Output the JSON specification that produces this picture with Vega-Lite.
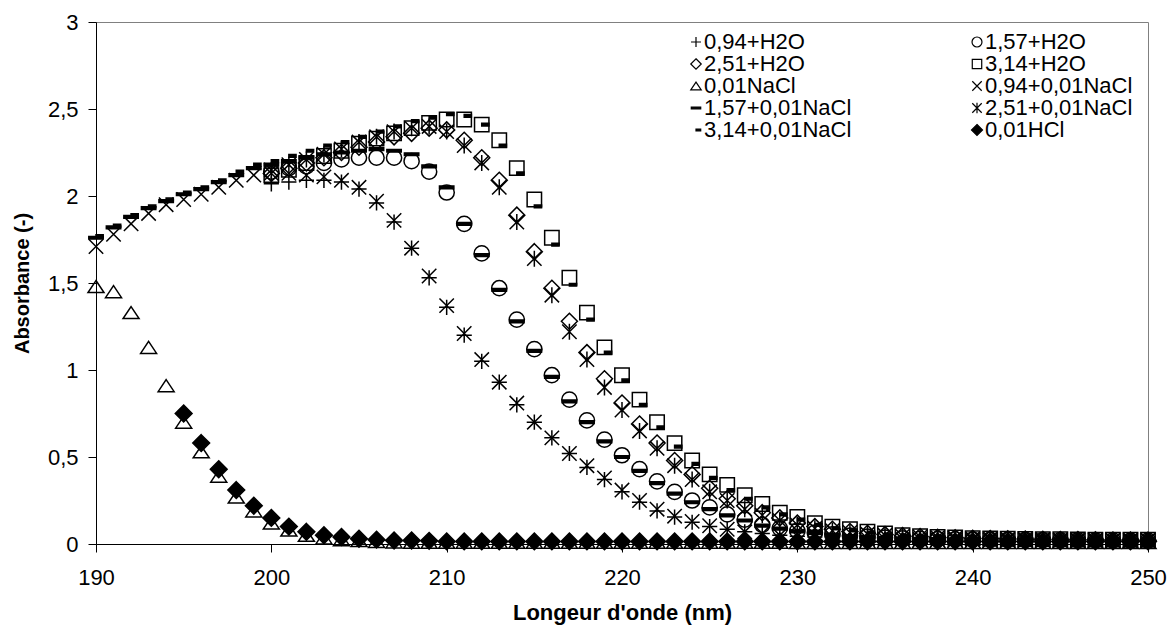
{
"$schema": "https://vega.github.io/schema/vega-lite/v6.json",
"autosize": {"type": "none"},
"padding": {"left": 96, "top": 22, "right": 21, "bottom": 86},
"width": 1052,
"height": 522,
"background": "white",
"data": {"values": [
{"serie":"0,94+H2O","nm":200,"abs":2.07},{"serie":"0,94+H2O","nm":201,"abs":2.08},{"serie":"0,94+H2O","nm":202,"abs":2.09},{"serie":"0,94+H2O","nm":203,"abs":2.09},{"serie":"0,94+H2O","nm":204,"abs":2.08},{"serie":"0,94+H2O","nm":205,"abs":2.04},{"serie":"0,94+H2O","nm":206,"abs":1.96},{"serie":"0,94+H2O","nm":207,"abs":1.85},{"serie":"0,94+H2O","nm":208,"abs":1.70},{"serie":"0,94+H2O","nm":209,"abs":1.53},
{"serie":"0,94+H2O","nm":210,"abs":1.36},{"serie":"0,94+H2O","nm":211,"abs":1.20},{"serie":"0,94+H2O","nm":212,"abs":1.05},{"serie":"0,94+H2O","nm":213,"abs":0.93},{"serie":"0,94+H2O","nm":214,"abs":0.80},{"serie":"0,94+H2O","nm":215,"abs":0.70},{"serie":"0,94+H2O","nm":216,"abs":0.61},{"serie":"0,94+H2O","nm":217,"abs":0.52},{"serie":"0,94+H2O","nm":218,"abs":0.44},{"serie":"0,94+H2O","nm":219,"abs":0.37},
{"serie":"0,94+H2O","nm":220,"abs":0.30},{"serie":"0,94+H2O","nm":221,"abs":0.24},{"serie":"0,94+H2O","nm":222,"abs":0.19},{"serie":"0,94+H2O","nm":223,"abs":0.155},{"serie":"0,94+H2O","nm":224,"abs":0.125},{"serie":"0,94+H2O","nm":225,"abs":0.10},{"serie":"0,94+H2O","nm":226,"abs":0.085},{"serie":"0,94+H2O","nm":227,"abs":0.07},{"serie":"0,94+H2O","nm":228,"abs":0.06},{"serie":"0,94+H2O","nm":229,"abs":0.05},
{"serie":"0,94+H2O","nm":230,"abs":0.045},{"serie":"0,94+H2O","nm":231,"abs":0.04},{"serie":"0,94+H2O","nm":232,"abs":0.036},{"serie":"0,94+H2O","nm":233,"abs":0.033},{"serie":"0,94+H2O","nm":234,"abs":0.03},{"serie":"0,94+H2O","nm":235,"abs":0.028},{"serie":"0,94+H2O","nm":236,"abs":0.027},{"serie":"0,94+H2O","nm":237,"abs":0.026},{"serie":"0,94+H2O","nm":238,"abs":0.025},{"serie":"0,94+H2O","nm":239,"abs":0.024},
{"serie":"0,94+H2O","nm":240,"abs":0.023},{"serie":"0,94+H2O","nm":241,"abs":0.022},{"serie":"0,94+H2O","nm":242,"abs":0.022},{"serie":"0,94+H2O","nm":243,"abs":0.021},{"serie":"0,94+H2O","nm":244,"abs":0.021},{"serie":"0,94+H2O","nm":245,"abs":0.02},{"serie":"0,94+H2O","nm":246,"abs":0.02},{"serie":"0,94+H2O","nm":247,"abs":0.02},{"serie":"0,94+H2O","nm":248,"abs":0.02},{"serie":"0,94+H2O","nm":249,"abs":0.02},{"serie":"0,94+H2O","nm":250,"abs":0.02},

{"serie":"1,57+H2O","nm":200,"abs":2.14},{"serie":"1,57+H2O","nm":201,"abs":2.16},{"serie":"1,57+H2O","nm":202,"abs":2.17},{"serie":"1,57+H2O","nm":203,"abs":2.19},{"serie":"1,57+H2O","nm":204,"abs":2.21},{"serie":"1,57+H2O","nm":205,"abs":2.22},{"serie":"1,57+H2O","nm":206,"abs":2.22},{"serie":"1,57+H2O","nm":207,"abs":2.22},{"serie":"1,57+H2O","nm":208,"abs":2.20},{"serie":"1,57+H2O","nm":209,"abs":2.14},
{"serie":"1,57+H2O","nm":210,"abs":2.02},{"serie":"1,57+H2O","nm":211,"abs":1.84},{"serie":"1,57+H2O","nm":212,"abs":1.67},{"serie":"1,57+H2O","nm":213,"abs":1.47},{"serie":"1,57+H2O","nm":214,"abs":1.29},{"serie":"1,57+H2O","nm":215,"abs":1.12},{"serie":"1,57+H2O","nm":216,"abs":0.97},{"serie":"1,57+H2O","nm":217,"abs":0.83},{"serie":"1,57+H2O","nm":218,"abs":0.71},{"serie":"1,57+H2O","nm":219,"abs":0.60},
{"serie":"1,57+H2O","nm":220,"abs":0.51},{"serie":"1,57+H2O","nm":221,"abs":0.43},{"serie":"1,57+H2O","nm":222,"abs":0.36},{"serie":"1,57+H2O","nm":223,"abs":0.30},{"serie":"1,57+H2O","nm":224,"abs":0.25},{"serie":"1,57+H2O","nm":225,"abs":0.21},{"serie":"1,57+H2O","nm":226,"abs":0.17},{"serie":"1,57+H2O","nm":227,"abs":0.14},{"serie":"1,57+H2O","nm":228,"abs":0.11},{"serie":"1,57+H2O","nm":229,"abs":0.09},
{"serie":"1,57+H2O","nm":230,"abs":0.075},{"serie":"1,57+H2O","nm":231,"abs":0.065},{"serie":"1,57+H2O","nm":232,"abs":0.055},{"serie":"1,57+H2O","nm":233,"abs":0.048},{"serie":"1,57+H2O","nm":234,"abs":0.042},{"serie":"1,57+H2O","nm":235,"abs":0.037},{"serie":"1,57+H2O","nm":236,"abs":0.033},{"serie":"1,57+H2O","nm":237,"abs":0.03},{"serie":"1,57+H2O","nm":238,"abs":0.028},{"serie":"1,57+H2O","nm":239,"abs":0.027},
{"serie":"1,57+H2O","nm":240,"abs":0.026},{"serie":"1,57+H2O","nm":241,"abs":0.025},{"serie":"1,57+H2O","nm":242,"abs":0.024},{"serie":"1,57+H2O","nm":243,"abs":0.024},{"serie":"1,57+H2O","nm":244,"abs":0.023},{"serie":"1,57+H2O","nm":245,"abs":0.022},{"serie":"1,57+H2O","nm":246,"abs":0.022},{"serie":"1,57+H2O","nm":247,"abs":0.021},{"serie":"1,57+H2O","nm":248,"abs":0.021},{"serie":"1,57+H2O","nm":249,"abs":0.02},{"serie":"1,57+H2O","nm":250,"abs":0.02},

{"serie":"2,51+H2O","nm":200,"abs":2.13},{"serie":"2,51+H2O","nm":201,"abs":2.16},{"serie":"2,51+H2O","nm":202,"abs":2.19},{"serie":"2,51+H2O","nm":203,"abs":2.22},{"serie":"2,51+H2O","nm":204,"abs":2.25},{"serie":"2,51+H2O","nm":205,"abs":2.28},{"serie":"2,51+H2O","nm":206,"abs":2.31},{"serie":"2,51+H2O","nm":207,"abs":2.34},{"serie":"2,51+H2O","nm":208,"abs":2.36},{"serie":"2,51+H2O","nm":209,"abs":2.39},
{"serie":"2,51+H2O","nm":210,"abs":2.38},{"serie":"2,51+H2O","nm":211,"abs":2.32},{"serie":"2,51+H2O","nm":212,"abs":2.22},{"serie":"2,51+H2O","nm":213,"abs":2.09},{"serie":"2,51+H2O","nm":214,"abs":1.89},{"serie":"2,51+H2O","nm":215,"abs":1.68},{"serie":"2,51+H2O","nm":216,"abs":1.47},{"serie":"2,51+H2O","nm":217,"abs":1.28},{"serie":"2,51+H2O","nm":218,"abs":1.10},{"serie":"2,51+H2O","nm":219,"abs":0.95},
{"serie":"2,51+H2O","nm":220,"abs":0.81},{"serie":"2,51+H2O","nm":221,"abs":0.69},{"serie":"2,51+H2O","nm":222,"abs":0.58},{"serie":"2,51+H2O","nm":223,"abs":0.48},{"serie":"2,51+H2O","nm":224,"abs":0.40},{"serie":"2,51+H2O","nm":225,"abs":0.32},{"serie":"2,51+H2O","nm":226,"abs":0.26},{"serie":"2,51+H2O","nm":227,"abs":0.22},{"serie":"2,51+H2O","nm":228,"abs":0.18},{"serie":"2,51+H2O","nm":229,"abs":0.15},
{"serie":"2,51+H2O","nm":230,"abs":0.12},{"serie":"2,51+H2O","nm":231,"abs":0.10},{"serie":"2,51+H2O","nm":232,"abs":0.085},{"serie":"2,51+H2O","nm":233,"abs":0.072},{"serie":"2,51+H2O","nm":234,"abs":0.062},{"serie":"2,51+H2O","nm":235,"abs":0.054},{"serie":"2,51+H2O","nm":236,"abs":0.048},{"serie":"2,51+H2O","nm":237,"abs":0.043},{"serie":"2,51+H2O","nm":238,"abs":0.039},{"serie":"2,51+H2O","nm":239,"abs":0.036},
{"serie":"2,51+H2O","nm":240,"abs":0.033},{"serie":"2,51+H2O","nm":241,"abs":0.031},{"serie":"2,51+H2O","nm":242,"abs":0.03},{"serie":"2,51+H2O","nm":243,"abs":0.028},{"serie":"2,51+H2O","nm":244,"abs":0.027},{"serie":"2,51+H2O","nm":245,"abs":0.026},{"serie":"2,51+H2O","nm":246,"abs":0.025},{"serie":"2,51+H2O","nm":247,"abs":0.024},{"serie":"2,51+H2O","nm":248,"abs":0.023},{"serie":"2,51+H2O","nm":249,"abs":0.023},{"serie":"2,51+H2O","nm":250,"abs":0.022},

{"serie":"3,14+H2O","nm":200,"abs":2.12},{"serie":"3,14+H2O","nm":201,"abs":2.15},{"serie":"3,14+H2O","nm":202,"abs":2.19},{"serie":"3,14+H2O","nm":203,"abs":2.23},{"serie":"3,14+H2O","nm":204,"abs":2.26},{"serie":"3,14+H2O","nm":205,"abs":2.30},{"serie":"3,14+H2O","nm":206,"abs":2.33},{"serie":"3,14+H2O","nm":207,"abs":2.36},{"serie":"3,14+H2O","nm":208,"abs":2.39},{"serie":"3,14+H2O","nm":209,"abs":2.42},
{"serie":"3,14+H2O","nm":210,"abs":2.44},{"serie":"3,14+H2O","nm":211,"abs":2.44},{"serie":"3,14+H2O","nm":212,"abs":2.41},{"serie":"3,14+H2O","nm":213,"abs":2.32},{"serie":"3,14+H2O","nm":214,"abs":2.16},{"serie":"3,14+H2O","nm":215,"abs":1.98},{"serie":"3,14+H2O","nm":216,"abs":1.76},{"serie":"3,14+H2O","nm":217,"abs":1.53},{"serie":"3,14+H2O","nm":218,"abs":1.33},{"serie":"3,14+H2O","nm":219,"abs":1.13},
{"serie":"3,14+H2O","nm":220,"abs":0.97},{"serie":"3,14+H2O","nm":221,"abs":0.83},{"serie":"3,14+H2O","nm":222,"abs":0.70},{"serie":"3,14+H2O","nm":223,"abs":0.58},{"serie":"3,14+H2O","nm":224,"abs":0.48},{"serie":"3,14+H2O","nm":225,"abs":0.40},{"serie":"3,14+H2O","nm":226,"abs":0.34},{"serie":"3,14+H2O","nm":227,"abs":0.28},{"serie":"3,14+H2O","nm":228,"abs":0.23},{"serie":"3,14+H2O","nm":229,"abs":0.18},
{"serie":"3,14+H2O","nm":230,"abs":0.155},{"serie":"3,14+H2O","nm":231,"abs":0.12},{"serie":"3,14+H2O","nm":232,"abs":0.10},{"serie":"3,14+H2O","nm":233,"abs":0.085},{"serie":"3,14+H2O","nm":234,"abs":0.07},{"serie":"3,14+H2O","nm":235,"abs":0.06},{"serie":"3,14+H2O","nm":236,"abs":0.05},{"serie":"3,14+H2O","nm":237,"abs":0.045},{"serie":"3,14+H2O","nm":238,"abs":0.04},{"serie":"3,14+H2O","nm":239,"abs":0.037},
{"serie":"3,14+H2O","nm":240,"abs":0.034},{"serie":"3,14+H2O","nm":241,"abs":0.032},{"serie":"3,14+H2O","nm":242,"abs":0.03},{"serie":"3,14+H2O","nm":243,"abs":0.029},{"serie":"3,14+H2O","nm":244,"abs":0.028},{"serie":"3,14+H2O","nm":245,"abs":0.027},{"serie":"3,14+H2O","nm":246,"abs":0.026},{"serie":"3,14+H2O","nm":247,"abs":0.025},{"serie":"3,14+H2O","nm":248,"abs":0.025},{"serie":"3,14+H2O","nm":249,"abs":0.024},{"serie":"3,14+H2O","nm":250,"abs":0.024},

{"serie":"0,01NaCl","nm":190,"abs":1.48},{"serie":"0,01NaCl","nm":191,"abs":1.45},{"serie":"0,01NaCl","nm":192,"abs":1.33},{"serie":"0,01NaCl","nm":193,"abs":1.13},{"serie":"0,01NaCl","nm":194,"abs":0.91},{"serie":"0,01NaCl","nm":195,"abs":0.70},{"serie":"0,01NaCl","nm":196,"abs":0.53},{"serie":"0,01NaCl","nm":197,"abs":0.39},{"serie":"0,01NaCl","nm":198,"abs":0.27},{"serie":"0,01NaCl","nm":199,"abs":0.19},
{"serie":"0,01NaCl","nm":200,"abs":0.12},{"serie":"0,01NaCl","nm":201,"abs":0.08},{"serie":"0,01NaCl","nm":202,"abs":0.05},{"serie":"0,01NaCl","nm":203,"abs":0.035},{"serie":"0,01NaCl","nm":204,"abs":0.025},{"serie":"0,01NaCl","nm":205,"abs":0.02},{"serie":"0,01NaCl","nm":206,"abs":0.015},{"serie":"0,01NaCl","nm":207,"abs":0.012},{"serie":"0,01NaCl","nm":208,"abs":0.01},{"serie":"0,01NaCl","nm":209,"abs":0.01},
{"serie":"0,01NaCl","nm":210,"abs":0.01},{"serie":"0,01NaCl","nm":211,"abs":0.01},{"serie":"0,01NaCl","nm":212,"abs":0.01},{"serie":"0,01NaCl","nm":213,"abs":0.01},{"serie":"0,01NaCl","nm":214,"abs":0.01},{"serie":"0,01NaCl","nm":215,"abs":0.01},{"serie":"0,01NaCl","nm":216,"abs":0.01},{"serie":"0,01NaCl","nm":217,"abs":0.01},{"serie":"0,01NaCl","nm":218,"abs":0.01},{"serie":"0,01NaCl","nm":219,"abs":0.01},
{"serie":"0,01NaCl","nm":220,"abs":0.01},{"serie":"0,01NaCl","nm":221,"abs":0.01},{"serie":"0,01NaCl","nm":222,"abs":0.01},{"serie":"0,01NaCl","nm":223,"abs":0.01},{"serie":"0,01NaCl","nm":224,"abs":0.01},{"serie":"0,01NaCl","nm":225,"abs":0.01},{"serie":"0,01NaCl","nm":226,"abs":0.01},{"serie":"0,01NaCl","nm":227,"abs":0.01},{"serie":"0,01NaCl","nm":228,"abs":0.01},{"serie":"0,01NaCl","nm":229,"abs":0.01},
{"serie":"0,01NaCl","nm":230,"abs":0.008},{"serie":"0,01NaCl","nm":231,"abs":0.008},{"serie":"0,01NaCl","nm":232,"abs":0.008},{"serie":"0,01NaCl","nm":233,"abs":0.008},{"serie":"0,01NaCl","nm":234,"abs":0.008},{"serie":"0,01NaCl","nm":235,"abs":0.008},{"serie":"0,01NaCl","nm":236,"abs":0.008},{"serie":"0,01NaCl","nm":237,"abs":0.008},{"serie":"0,01NaCl","nm":238,"abs":0.008},{"serie":"0,01NaCl","nm":239,"abs":0.008},
{"serie":"0,01NaCl","nm":240,"abs":0.008},{"serie":"0,01NaCl","nm":241,"abs":0.008},{"serie":"0,01NaCl","nm":242,"abs":0.008},{"serie":"0,01NaCl","nm":243,"abs":0.008},{"serie":"0,01NaCl","nm":244,"abs":0.008},{"serie":"0,01NaCl","nm":245,"abs":0.008},{"serie":"0,01NaCl","nm":246,"abs":0.008},{"serie":"0,01NaCl","nm":247,"abs":0.008},{"serie":"0,01NaCl","nm":248,"abs":0.008},{"serie":"0,01NaCl","nm":249,"abs":0.008},{"serie":"0,01NaCl","nm":250,"abs":0.008},

{"serie":"0,94+0,01NaCl","nm":190,"abs":1.71},{"serie":"0,94+0,01NaCl","nm":191,"abs":1.78},{"serie":"0,94+0,01NaCl","nm":192,"abs":1.84},{"serie":"0,94+0,01NaCl","nm":193,"abs":1.90},{"serie":"0,94+0,01NaCl","nm":194,"abs":1.95},{"serie":"0,94+0,01NaCl","nm":195,"abs":1.98},{"serie":"0,94+0,01NaCl","nm":196,"abs":2.01},{"serie":"0,94+0,01NaCl","nm":197,"abs":2.05},{"serie":"0,94+0,01NaCl","nm":198,"abs":2.09},{"serie":"0,94+0,01NaCl","nm":199,"abs":2.12},
{"serie":"0,94+0,01NaCl","nm":200,"abs":2.13},{"serie":"0,94+0,01NaCl","nm":201,"abs":2.13},{"serie":"0,94+0,01NaCl","nm":202,"abs":2.12},{"serie":"0,94+0,01NaCl","nm":203,"abs":2.11},{"serie":"0,94+0,01NaCl","nm":204,"abs":2.09},{"serie":"0,94+0,01NaCl","nm":205,"abs":2.05},{"serie":"0,94+0,01NaCl","nm":206,"abs":1.97},{"serie":"0,94+0,01NaCl","nm":207,"abs":1.86},{"serie":"0,94+0,01NaCl","nm":208,"abs":1.70},{"serie":"0,94+0,01NaCl","nm":209,"abs":1.54},
{"serie":"0,94+0,01NaCl","nm":210,"abs":1.37},{"serie":"0,94+0,01NaCl","nm":211,"abs":1.21},{"serie":"0,94+0,01NaCl","nm":212,"abs":1.06},{"serie":"0,94+0,01NaCl","nm":213,"abs":0.93},{"serie":"0,94+0,01NaCl","nm":214,"abs":0.81},{"serie":"0,94+0,01NaCl","nm":215,"abs":0.70},{"serie":"0,94+0,01NaCl","nm":216,"abs":0.61},{"serie":"0,94+0,01NaCl","nm":217,"abs":0.52},{"serie":"0,94+0,01NaCl","nm":218,"abs":0.45},{"serie":"0,94+0,01NaCl","nm":219,"abs":0.38},
{"serie":"0,94+0,01NaCl","nm":220,"abs":0.31},{"serie":"0,94+0,01NaCl","nm":221,"abs":0.25},{"serie":"0,94+0,01NaCl","nm":222,"abs":0.20},{"serie":"0,94+0,01NaCl","nm":223,"abs":0.16},{"serie":"0,94+0,01NaCl","nm":224,"abs":0.13},{"serie":"0,94+0,01NaCl","nm":225,"abs":0.105},{"serie":"0,94+0,01NaCl","nm":226,"abs":0.085},{"serie":"0,94+0,01NaCl","nm":227,"abs":0.07},{"serie":"0,94+0,01NaCl","nm":228,"abs":0.06},{"serie":"0,94+0,01NaCl","nm":229,"abs":0.05},
{"serie":"0,94+0,01NaCl","nm":230,"abs":0.045},{"serie":"0,94+0,01NaCl","nm":231,"abs":0.04},{"serie":"0,94+0,01NaCl","nm":232,"abs":0.036},{"serie":"0,94+0,01NaCl","nm":233,"abs":0.033},{"serie":"0,94+0,01NaCl","nm":234,"abs":0.03},{"serie":"0,94+0,01NaCl","nm":235,"abs":0.028},{"serie":"0,94+0,01NaCl","nm":236,"abs":0.027},{"serie":"0,94+0,01NaCl","nm":237,"abs":0.026},{"serie":"0,94+0,01NaCl","nm":238,"abs":0.025},{"serie":"0,94+0,01NaCl","nm":239,"abs":0.024},
{"serie":"0,94+0,01NaCl","nm":240,"abs":0.023},{"serie":"0,94+0,01NaCl","nm":241,"abs":0.022},{"serie":"0,94+0,01NaCl","nm":242,"abs":0.022},{"serie":"0,94+0,01NaCl","nm":243,"abs":0.021},{"serie":"0,94+0,01NaCl","nm":244,"abs":0.021},{"serie":"0,94+0,01NaCl","nm":245,"abs":0.02},{"serie":"0,94+0,01NaCl","nm":246,"abs":0.02},{"serie":"0,94+0,01NaCl","nm":247,"abs":0.02},{"serie":"0,94+0,01NaCl","nm":248,"abs":0.02},{"serie":"0,94+0,01NaCl","nm":249,"abs":0.02},{"serie":"0,94+0,01NaCl","nm":250,"abs":0.02},

{"serie":"1,57+0,01NaCl","nm":190,"abs":1.76},{"serie":"1,57+0,01NaCl","nm":191,"abs":1.82},{"serie":"1,57+0,01NaCl","nm":192,"abs":1.88},{"serie":"1,57+0,01NaCl","nm":193,"abs":1.93},{"serie":"1,57+0,01NaCl","nm":194,"abs":1.97},{"serie":"1,57+0,01NaCl","nm":195,"abs":2.01},{"serie":"1,57+0,01NaCl","nm":196,"abs":2.04},{"serie":"1,57+0,01NaCl","nm":197,"abs":2.08},{"serie":"1,57+0,01NaCl","nm":198,"abs":2.12},{"serie":"1,57+0,01NaCl","nm":199,"abs":2.16},
{"serie":"1,57+0,01NaCl","nm":200,"abs":2.18},{"serie":"1,57+0,01NaCl","nm":201,"abs":2.20},{"serie":"1,57+0,01NaCl","nm":202,"abs":2.22},{"serie":"1,57+0,01NaCl","nm":203,"abs":2.24},{"serie":"1,57+0,01NaCl","nm":204,"abs":2.25},{"serie":"1,57+0,01NaCl","nm":205,"abs":2.26},{"serie":"1,57+0,01NaCl","nm":206,"abs":2.27},{"serie":"1,57+0,01NaCl","nm":207,"abs":2.26},{"serie":"1,57+0,01NaCl","nm":208,"abs":2.24},{"serie":"1,57+0,01NaCl","nm":209,"abs":2.17},
{"serie":"1,57+0,01NaCl","nm":210,"abs":2.05},{"serie":"1,57+0,01NaCl","nm":211,"abs":1.84},{"serie":"1,57+0,01NaCl","nm":212,"abs":1.66},{"serie":"1,57+0,01NaCl","nm":213,"abs":1.46},{"serie":"1,57+0,01NaCl","nm":214,"abs":1.28},{"serie":"1,57+0,01NaCl","nm":215,"abs":1.11},{"serie":"1,57+0,01NaCl","nm":216,"abs":0.96},{"serie":"1,57+0,01NaCl","nm":217,"abs":0.82},{"serie":"1,57+0,01NaCl","nm":218,"abs":0.70},{"serie":"1,57+0,01NaCl","nm":219,"abs":0.59},
{"serie":"1,57+0,01NaCl","nm":220,"abs":0.50},{"serie":"1,57+0,01NaCl","nm":221,"abs":0.42},{"serie":"1,57+0,01NaCl","nm":222,"abs":0.35},{"serie":"1,57+0,01NaCl","nm":223,"abs":0.29},{"serie":"1,57+0,01NaCl","nm":224,"abs":0.24},{"serie":"1,57+0,01NaCl","nm":225,"abs":0.20},{"serie":"1,57+0,01NaCl","nm":226,"abs":0.165},{"serie":"1,57+0,01NaCl","nm":227,"abs":0.135},{"serie":"1,57+0,01NaCl","nm":228,"abs":0.105},{"serie":"1,57+0,01NaCl","nm":229,"abs":0.088},
{"serie":"1,57+0,01NaCl","nm":230,"abs":0.073},{"serie":"1,57+0,01NaCl","nm":231,"abs":0.063},{"serie":"1,57+0,01NaCl","nm":232,"abs":0.053},{"serie":"1,57+0,01NaCl","nm":233,"abs":0.046},{"serie":"1,57+0,01NaCl","nm":234,"abs":0.04},{"serie":"1,57+0,01NaCl","nm":235,"abs":0.035},{"serie":"1,57+0,01NaCl","nm":236,"abs":0.032},{"serie":"1,57+0,01NaCl","nm":237,"abs":0.03},{"serie":"1,57+0,01NaCl","nm":238,"abs":0.028},{"serie":"1,57+0,01NaCl","nm":239,"abs":0.027},
{"serie":"1,57+0,01NaCl","nm":240,"abs":0.026},{"serie":"1,57+0,01NaCl","nm":241,"abs":0.025},{"serie":"1,57+0,01NaCl","nm":242,"abs":0.024},{"serie":"1,57+0,01NaCl","nm":243,"abs":0.024},{"serie":"1,57+0,01NaCl","nm":244,"abs":0.023},{"serie":"1,57+0,01NaCl","nm":245,"abs":0.022},{"serie":"1,57+0,01NaCl","nm":246,"abs":0.022},{"serie":"1,57+0,01NaCl","nm":247,"abs":0.021},{"serie":"1,57+0,01NaCl","nm":248,"abs":0.021},{"serie":"1,57+0,01NaCl","nm":249,"abs":0.02},{"serie":"1,57+0,01NaCl","nm":250,"abs":0.02},

{"serie":"2,51+0,01NaCl","nm":200,"abs":2.15},{"serie":"2,51+0,01NaCl","nm":201,"abs":2.18},{"serie":"2,51+0,01NaCl","nm":202,"abs":2.21},{"serie":"2,51+0,01NaCl","nm":203,"abs":2.24},{"serie":"2,51+0,01NaCl","nm":204,"abs":2.27},{"serie":"2,51+0,01NaCl","nm":205,"abs":2.31},{"serie":"2,51+0,01NaCl","nm":206,"abs":2.34},{"serie":"2,51+0,01NaCl","nm":207,"abs":2.37},{"serie":"2,51+0,01NaCl","nm":208,"abs":2.39},{"serie":"2,51+0,01NaCl","nm":209,"abs":2.40},
{"serie":"2,51+0,01NaCl","nm":210,"abs":2.37},{"serie":"2,51+0,01NaCl","nm":211,"abs":2.29},{"serie":"2,51+0,01NaCl","nm":212,"abs":2.19},{"serie":"2,51+0,01NaCl","nm":213,"abs":2.05},{"serie":"2,51+0,01NaCl","nm":214,"abs":1.85},{"serie":"2,51+0,01NaCl","nm":215,"abs":1.64},{"serie":"2,51+0,01NaCl","nm":216,"abs":1.43},{"serie":"2,51+0,01NaCl","nm":217,"abs":1.22},{"serie":"2,51+0,01NaCl","nm":218,"abs":1.06},{"serie":"2,51+0,01NaCl","nm":219,"abs":0.90},
{"serie":"2,51+0,01NaCl","nm":220,"abs":0.77},{"serie":"2,51+0,01NaCl","nm":221,"abs":0.65},{"serie":"2,51+0,01NaCl","nm":222,"abs":0.55},{"serie":"2,51+0,01NaCl","nm":223,"abs":0.45},{"serie":"2,51+0,01NaCl","nm":224,"abs":0.37},{"serie":"2,51+0,01NaCl","nm":225,"abs":0.30},{"serie":"2,51+0,01NaCl","nm":226,"abs":0.25},{"serie":"2,51+0,01NaCl","nm":227,"abs":0.20},{"serie":"2,51+0,01NaCl","nm":228,"abs":0.165},{"serie":"2,51+0,01NaCl","nm":229,"abs":0.135},
{"serie":"2,51+0,01NaCl","nm":230,"abs":0.11},{"serie":"2,51+0,01NaCl","nm":231,"abs":0.09},{"serie":"2,51+0,01NaCl","nm":232,"abs":0.077},{"serie":"2,51+0,01NaCl","nm":233,"abs":0.066},{"serie":"2,51+0,01NaCl","nm":234,"abs":0.057},{"serie":"2,51+0,01NaCl","nm":235,"abs":0.05},{"serie":"2,51+0,01NaCl","nm":236,"abs":0.045},{"serie":"2,51+0,01NaCl","nm":237,"abs":0.04},{"serie":"2,51+0,01NaCl","nm":238,"abs":0.037},{"serie":"2,51+0,01NaCl","nm":239,"abs":0.034},
{"serie":"2,51+0,01NaCl","nm":240,"abs":0.031},{"serie":"2,51+0,01NaCl","nm":241,"abs":0.03},{"serie":"2,51+0,01NaCl","nm":242,"abs":0.028},{"serie":"2,51+0,01NaCl","nm":243,"abs":0.027},{"serie":"2,51+0,01NaCl","nm":244,"abs":0.026},{"serie":"2,51+0,01NaCl","nm":245,"abs":0.025},{"serie":"2,51+0,01NaCl","nm":246,"abs":0.024},{"serie":"2,51+0,01NaCl","nm":247,"abs":0.023},{"serie":"2,51+0,01NaCl","nm":248,"abs":0.022},{"serie":"2,51+0,01NaCl","nm":249,"abs":0.022},{"serie":"2,51+0,01NaCl","nm":250,"abs":0.021},

{"serie":"3,14+0,01NaCl","nm":190,"abs":1.77},{"serie":"3,14+0,01NaCl","nm":191,"abs":1.83},{"serie":"3,14+0,01NaCl","nm":192,"abs":1.89},{"serie":"3,14+0,01NaCl","nm":193,"abs":1.94},{"serie":"3,14+0,01NaCl","nm":194,"abs":1.98},{"serie":"3,14+0,01NaCl","nm":195,"abs":2.02},{"serie":"3,14+0,01NaCl","nm":196,"abs":2.05},{"serie":"3,14+0,01NaCl","nm":197,"abs":2.09},{"serie":"3,14+0,01NaCl","nm":198,"abs":2.14},{"serie":"3,14+0,01NaCl","nm":199,"abs":2.18},
{"serie":"3,14+0,01NaCl","nm":200,"abs":2.20},{"serie":"3,14+0,01NaCl","nm":201,"abs":2.23},{"serie":"3,14+0,01NaCl","nm":202,"abs":2.26},{"serie":"3,14+0,01NaCl","nm":203,"abs":2.29},{"serie":"3,14+0,01NaCl","nm":204,"abs":2.31},{"serie":"3,14+0,01NaCl","nm":205,"abs":2.34},{"serie":"3,14+0,01NaCl","nm":206,"abs":2.37},{"serie":"3,14+0,01NaCl","nm":207,"abs":2.40},{"serie":"3,14+0,01NaCl","nm":208,"abs":2.43},{"serie":"3,14+0,01NaCl","nm":209,"abs":2.45},
{"serie":"3,14+0,01NaCl","nm":210,"abs":2.47},{"serie":"3,14+0,01NaCl","nm":211,"abs":2.46},{"serie":"3,14+0,01NaCl","nm":212,"abs":2.41},{"serie":"3,14+0,01NaCl","nm":213,"abs":2.29},{"serie":"3,14+0,01NaCl","nm":214,"abs":2.13},{"serie":"3,14+0,01NaCl","nm":215,"abs":1.94},{"serie":"3,14+0,01NaCl","nm":216,"abs":1.72},{"serie":"3,14+0,01NaCl","nm":217,"abs":1.49},{"serie":"3,14+0,01NaCl","nm":218,"abs":1.29},{"serie":"3,14+0,01NaCl","nm":219,"abs":1.10},
{"serie":"3,14+0,01NaCl","nm":220,"abs":0.94},{"serie":"3,14+0,01NaCl","nm":221,"abs":0.80},{"serie":"3,14+0,01NaCl","nm":222,"abs":0.67},{"serie":"3,14+0,01NaCl","nm":223,"abs":0.56},{"serie":"3,14+0,01NaCl","nm":224,"abs":0.46},{"serie":"3,14+0,01NaCl","nm":225,"abs":0.38},{"serie":"3,14+0,01NaCl","nm":226,"abs":0.31},{"serie":"3,14+0,01NaCl","nm":227,"abs":0.26},{"serie":"3,14+0,01NaCl","nm":228,"abs":0.21},{"serie":"3,14+0,01NaCl","nm":229,"abs":0.17},
{"serie":"3,14+0,01NaCl","nm":230,"abs":0.14},{"serie":"3,14+0,01NaCl","nm":231,"abs":0.11},{"serie":"3,14+0,01NaCl","nm":232,"abs":0.09},{"serie":"3,14+0,01NaCl","nm":233,"abs":0.078},{"serie":"3,14+0,01NaCl","nm":234,"abs":0.065},{"serie":"3,14+0,01NaCl","nm":235,"abs":0.055},{"serie":"3,14+0,01NaCl","nm":236,"abs":0.048},{"serie":"3,14+0,01NaCl","nm":237,"abs":0.043},{"serie":"3,14+0,01NaCl","nm":238,"abs":0.039},{"serie":"3,14+0,01NaCl","nm":239,"abs":0.035},
{"serie":"3,14+0,01NaCl","nm":240,"abs":0.032},{"serie":"3,14+0,01NaCl","nm":241,"abs":0.03},{"serie":"3,14+0,01NaCl","nm":242,"abs":0.029},{"serie":"3,14+0,01NaCl","nm":243,"abs":0.028},{"serie":"3,14+0,01NaCl","nm":244,"abs":0.027},{"serie":"3,14+0,01NaCl","nm":245,"abs":0.026},{"serie":"3,14+0,01NaCl","nm":246,"abs":0.025},{"serie":"3,14+0,01NaCl","nm":247,"abs":0.024},{"serie":"3,14+0,01NaCl","nm":248,"abs":0.023},{"serie":"3,14+0,01NaCl","nm":249,"abs":0.023},{"serie":"3,14+0,01NaCl","nm":250,"abs":0.022},

{"serie":"0,01HCl","nm":195,"abs":0.75},{"serie":"0,01HCl","nm":196,"abs":0.58},{"serie":"0,01HCl","nm":197,"abs":0.43},{"serie":"0,01HCl","nm":198,"abs":0.31},{"serie":"0,01HCl","nm":199,"abs":0.22},
{"serie":"0,01HCl","nm":200,"abs":0.15},{"serie":"0,01HCl","nm":201,"abs":0.10},{"serie":"0,01HCl","nm":202,"abs":0.07},{"serie":"0,01HCl","nm":203,"abs":0.05},{"serie":"0,01HCl","nm":204,"abs":0.04},{"serie":"0,01HCl","nm":205,"abs":0.03},{"serie":"0,01HCl","nm":206,"abs":0.025},{"serie":"0,01HCl","nm":207,"abs":0.02},{"serie":"0,01HCl","nm":208,"abs":0.02},{"serie":"0,01HCl","nm":209,"abs":0.018},
{"serie":"0,01HCl","nm":210,"abs":0.015},{"serie":"0,01HCl","nm":211,"abs":0.015},{"serie":"0,01HCl","nm":212,"abs":0.015},{"serie":"0,01HCl","nm":213,"abs":0.015},{"serie":"0,01HCl","nm":214,"abs":0.015},{"serie":"0,01HCl","nm":215,"abs":0.015},{"serie":"0,01HCl","nm":216,"abs":0.015},{"serie":"0,01HCl","nm":217,"abs":0.015},{"serie":"0,01HCl","nm":218,"abs":0.015},{"serie":"0,01HCl","nm":219,"abs":0.015},
{"serie":"0,01HCl","nm":220,"abs":0.015},{"serie":"0,01HCl","nm":221,"abs":0.015},{"serie":"0,01HCl","nm":222,"abs":0.015},{"serie":"0,01HCl","nm":223,"abs":0.015},{"serie":"0,01HCl","nm":224,"abs":0.015},{"serie":"0,01HCl","nm":225,"abs":0.015},{"serie":"0,01HCl","nm":226,"abs":0.015},{"serie":"0,01HCl","nm":227,"abs":0.015},{"serie":"0,01HCl","nm":228,"abs":0.015},{"serie":"0,01HCl","nm":229,"abs":0.015},
{"serie":"0,01HCl","nm":230,"abs":0.015},{"serie":"0,01HCl","nm":231,"abs":0.015},{"serie":"0,01HCl","nm":232,"abs":0.015},{"serie":"0,01HCl","nm":233,"abs":0.015},{"serie":"0,01HCl","nm":234,"abs":0.015},{"serie":"0,01HCl","nm":235,"abs":0.015},{"serie":"0,01HCl","nm":236,"abs":0.015},{"serie":"0,01HCl","nm":237,"abs":0.015},{"serie":"0,01HCl","nm":238,"abs":0.015},{"serie":"0,01HCl","nm":239,"abs":0.015},
{"serie":"0,01HCl","nm":240,"abs":0.015},{"serie":"0,01HCl","nm":241,"abs":0.015},{"serie":"0,01HCl","nm":242,"abs":0.015},{"serie":"0,01HCl","nm":243,"abs":0.015},{"serie":"0,01HCl","nm":244,"abs":0.015},{"serie":"0,01HCl","nm":245,"abs":0.015},{"serie":"0,01HCl","nm":246,"abs":0.015},{"serie":"0,01HCl","nm":247,"abs":0.015},{"serie":"0,01HCl","nm":248,"abs":0.015},{"serie":"0,01HCl","nm":249,"abs":0.015},{"serie":"0,01HCl","nm":250,"abs":0.015}
]},
"mark": {"type": "point", "opacity": 1, "color": "black", "stroke": "black", "strokeWidth": 1.5, "size": 256},
"encoding": {
  "x": {"field": "nm", "type": "quantitative",
        "scale": {"domain": [190, 250], "nice": false, "zero": false},
        "axis": {"values": [190, 200, 210, 220, 230, 240, 250], "format": "d", "labelPadding": 15, "labelFlush": false,
                 "title": "Longeur d'onde (nm)", "titleFontSize": 22, "titleX": 526, "titleY": 75, "titleBaseline": "alphabetic"}},
  "y": {"field": "abs", "type": "quantitative",
        "scale": {"domain": [0, 3], "nice": false},
        "axis": {"values": [0, 0.5, 1, 1.5, 2, 2.5, 3], "labelExpr": "replace(toString(datum.value), '.', ',')", "labelPadding": 10, "labelFlush": false,
                 "title": "Absorbance (-)", "titleFontSize": 20, "titleX": -68, "titleY": 261, "titleBaseline": "alphabetic"}},
  "shape": {"field": "serie", "type": "nominal",
    "scale": {"domain": ["0,94+H2O","2,51+H2O","0,01NaCl","1,57+0,01NaCl","3,14+0,01NaCl","1,57+H2O","3,14+H2O","0,94+0,01NaCl","2,51+0,01NaCl","0,01HCl"],
              "range": ["M-0.95,0L0.95,0M0,-0.95L0,0.95",
                        "M0,-1L1,0L0,1L-1,0Z",
                        "M0,-0.75L1,0.75L-1,0.75Z",
                        "M-0.9,-0.17L0.9,-0.17L0.9,0.17L-0.9,0.17Z",
                        "M0,-0.17L0.9,-0.17L0.9,0.17L0,0.17Z",
                        "M0.95,0A0.95,0.95,0,1,1,-0.95,0A0.95,0.95,0,1,1,0.95,0Z",
                        "M-0.9,-0.9L0.9,-0.9L0.9,0.9L-0.9,0.9Z",
                        "M-0.9,-0.9L0.9,0.9M-0.9,0.9L0.9,-0.9",
                        "M-0.9,-0.9L0.9,0.9M-0.9,0.9L0.9,-0.9M0,-1L0,1",
                        "M0,-1.05L1.05,0L0,1.05L-1.05,0Z"]},
    "legend": {"title": null}},
  "fill": {"field": "serie", "type": "nominal",
    "scale": {"domain": ["0,94+H2O","2,51+H2O","0,01NaCl","1,57+0,01NaCl","3,14+0,01NaCl","1,57+H2O","3,14+H2O","0,94+0,01NaCl","2,51+0,01NaCl","0,01HCl"],
              "range": ["transparent","transparent","transparent","black","black","transparent","transparent","transparent","transparent","black"]},
    "legend": {"title": null}},
  "stroke": {"field": "serie", "type": "nominal",
    "scale": {"domain": ["0,94+H2O","2,51+H2O","0,01NaCl","1,57+0,01NaCl","3,14+0,01NaCl","1,57+H2O","3,14+H2O","0,94+0,01NaCl","2,51+0,01NaCl","0,01HCl"],
              "range": ["black","black","black","black","black","black","black","black","black","black"]},
    "legend": {"title": null}}
},
"config": {
  "font": "Liberation Sans",
  "view": {"stroke": "#808080", "strokeWidth": 1},
  "axis": {"labelFont": "Liberation Sans", "labelFontSize": 22, "labelColor": "black", "titleFont": "Liberation Sans", "titleFontWeight": "bold", "titleColor": "black",
           "domainColor": "black", "domainWidth": 1, "tickColor": "black", "tickSize": 8, "tickWidth": 1, "grid": false},
  "legend": {"orient": "none", "legendX": 589, "legendY": 9, "columns": 2, "padding": 0, "symbolSize": 110, "symbolStrokeWidth": 1.2, "symbolStrokeColor": "black",
             "labelFont": "Liberation Sans", "labelFontSize": 22, "labelColor": "black", "labelOffset": -3, "rowPadding": 0, "columnPadding": 114, "labelLimit": 400}
}
}
